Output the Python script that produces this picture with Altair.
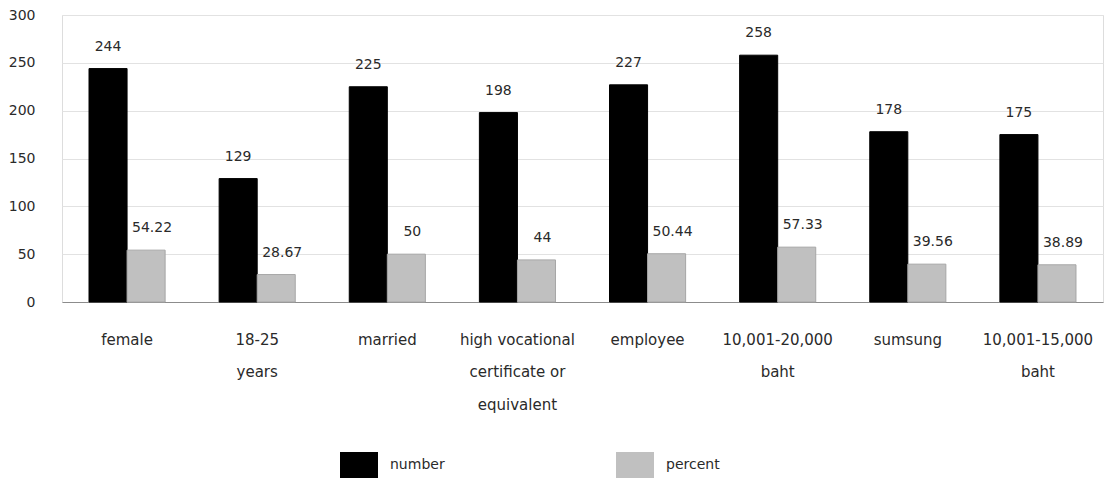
import altair as alt
import pandas as pd

categories = ["female", "18-25|years", "married", "high vocational|certificate or|equivalent",
              "employee", "10,001-20,000|baht", "sumsung", "10,001-15,000|baht"]
number_values = [244, 129, 225, 198, 227, 258, 178, 175]
percent_values = [54.22, 28.67, 50, 44, 50.44, 57.33, 39.56, 38.89]
series_names = ["number", "percent"]
y_ticks = [0, 50, 100, 150, 200, 250, 300]

rows = []
for c, n, p in zip(categories, number_values, percent_values):
    rows.append({"cat": c, "series": "number", "value": n, "label": f"{n:g}"})
    rows.append({"cat": c, "series": "percent", "value": p, "label": f"{p:g}"})
df = pd.DataFrame(rows)

FONT = "DejaVu Sans"
TXT = "#2a2a2a"

x_enc = alt.X("cat:N", sort=categories,
              scale=alt.Scale(paddingInner=0.415, paddingOuter=0.2075),
              axis=alt.Axis(title=None, labelAngle=0, ticks=False, domainColor="#8c8c8c",
                            labelExpr="split(datum.label, '|')", labelLineHeight=32.5,
                            labelPadding=30, labelFontSize=15, labelColor=TXT,
                            labelFont=FONT, labelBaseline="top", labelLimit=200))
xoff = alt.XOffset("series:N", sort=series_names, scale=alt.Scale(paddingInner=0, paddingOuter=0))
y_enc = alt.Y("value:Q", scale=alt.Scale(domain=[0, 300], nice=False),
              axis=alt.Axis(title=None, values=y_ticks, ticks=False, domain=False,
                            labelPadding=27, labelFontSize=14, labelColor=TXT,
                            labelFont=FONT, gridColor="#e2e2e2"))

bars = alt.Chart(df).mark_bar(strokeWidth=1).encode(
    x=x_enc, xOffset=xoff, y=y_enc,
    color=alt.Color("series:N", sort=series_names,
                    scale=alt.Scale(domain=series_names, range=["#000000", "#c0c0c0"]),
                    legend=alt.Legend(title=None, orient="none", direction="horizontal",
                                      legendX=278, legendY=431,
                                      symbolType="M-1,-0.684L1,-0.684L1,0.684L-1,0.684Z",
                                      symbolSize=1444, symbolStrokeWidth=0,
                                      labelFontSize=14, labelFont=FONT, labelColor=TXT,
                                      labelOffset=12, columnPadding=171, padding=0)),
    stroke=alt.Stroke("series:N", sort=series_names,
                      scale=alt.Scale(domain=series_names, range=["#000000", "#a6a6a6"]),
                      legend=None),
)

num_text = alt.Chart(df).transform_filter(alt.datum.series == "number").mark_text(
    fontSize=14, font=FONT, color=TXT, baseline="middle", dy=-22).encode(
    x=alt.X("cat:N", sort=categories), xOffset=xoff, y="value:Q", text="label:N")
pct_text = alt.Chart(df).transform_filter(alt.datum.series == "percent").mark_text(
    fontSize=14, font=FONT, color=TXT, baseline="middle", dy=-22, dx=6).encode(
    x=alt.X("cat:N", sort=categories), xOffset=xoff, y="value:Q", text="label:N")

chart = (bars + num_text + pct_text).properties(
    width=1041, height=287,
    autosize=alt.AutoSizeParams(type="none"),
    padding={"left": 62, "top": 15, "right": 6, "bottom": 177},
).configure_view(stroke="#d6d6d6").configure(background="white")

chart.save("out.html", embed_options={"renderer": "svg", "actions": False})
